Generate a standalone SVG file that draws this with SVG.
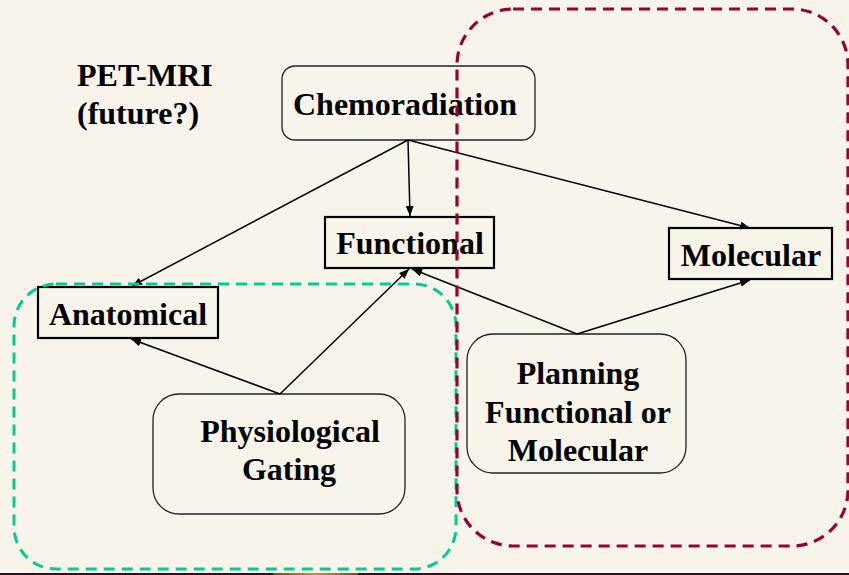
<svg xmlns="http://www.w3.org/2000/svg" width="849" height="575" viewBox="0 0 849 575">
<style>
  .t { font-family: "Liberation Serif", "Times New Roman", serif; font-weight: bold; font-size: 32px; fill: #000; }
  .rb { fill: #F8F4E9; stroke: #222; stroke-width: 1.3; }
  .sb { fill: #F8F4E9; stroke: #000; stroke-width: 2.2; }
  .c { stroke: #000; stroke-width: 1.5; fill: none; marker-end: url(#ah); }
  .green { fill: none; stroke: #00CC99; stroke-width: 3; stroke-dasharray: 11 7; }
  .red { fill: none; stroke: #990033; stroke-width: 3.2; stroke-dasharray: 11 7; }
</style>
<defs>
  <marker id="ah" viewBox="0 0 10 8" refX="10" refY="4" markerWidth="10" markerHeight="8" markerUnits="userSpaceOnUse" orient="auto">
    <path d="M0,0 L10,4 L0,8 Z" fill="#000"/>
  </marker>
  <linearGradient id="gold" x1="0" x2="1" y1="0" y2="0">
    <stop offset="0" stop-color="#6b5020"/>
    <stop offset="0.5" stop-color="#d8901a"/>
    <stop offset="1" stop-color="#6b5020"/>
  </linearGradient>
</defs>
<rect x="0" y="0" width="849" height="575" fill="#F8F4E9"/>

<g id="title">
  <text class="t" x="77" y="86">PET-MRI</text>
  <text class="t" x="77" y="124">(future?)</text>
</g>

<g id="chemoradiation">
  <rect class="rb" x="282" y="66" width="253" height="74" rx="13"/>
  <text class="t" x="405" y="115" text-anchor="middle">Chemoradiation</text>
</g>

<g id="functional">
  <rect class="sb" x="325" y="217" width="169" height="51"/>
  <text class="t" x="410" y="254" text-anchor="middle">Functional</text>
</g>

<g id="anatomical">
  <rect class="sb" x="38" y="287" width="180" height="51"/>
  <text class="t" x="128" y="325" text-anchor="middle">Anatomical</text>
</g>

<g id="molecular">
  <rect class="sb" x="669" y="228" width="163" height="51"/>
  <text class="t" x="751" y="266" text-anchor="middle">Molecular</text>
</g>

<g id="planning">
  <rect class="rb" x="467" y="334" width="219" height="139" rx="26"/>
  <text class="t" x="578" y="384" text-anchor="middle">Planning</text>
  <text class="t" x="578" y="423" text-anchor="middle">Functional or</text>
  <text class="t" x="578" y="461" text-anchor="middle">Molecular</text>
</g>

<g id="physiological">
  <rect class="rb" x="153" y="394" width="252" height="120" rx="26"/>
  <text class="t" x="290" y="442" text-anchor="middle">Physiological</text>
  <text class="t" x="289" y="480" text-anchor="middle">Gating</text>
</g>

<g id="connectors">
  <line class="c" x1="408" y1="140" x2="410" y2="216"/>
  <line class="c" x1="408" y1="140" x2="132" y2="286"/>
  <line class="c" x1="408" y1="140" x2="750" y2="228"/>
  <line class="c" x1="577" y1="334" x2="750" y2="280"/>
  <line class="c" x1="577" y1="334" x2="412" y2="269"/>
  <line class="c" x1="280" y1="394" x2="131" y2="339"/>
  <line class="c" x1="280" y1="394" x2="409" y2="269"/>
</g>

<g id="groups">
  <rect class="green" x="14" y="284" width="442" height="285" rx="42"/>
  <rect class="red" x="457" y="9" width="391" height="537" rx="56"/>
</g>

<g id="bottom-strip">
  <rect x="0" y="573" width="849" height="2" fill="#3a0a1e"/>
  <rect x="273" y="573" width="85" height="2" fill="url(#gold)"/>
</g>
</svg>
